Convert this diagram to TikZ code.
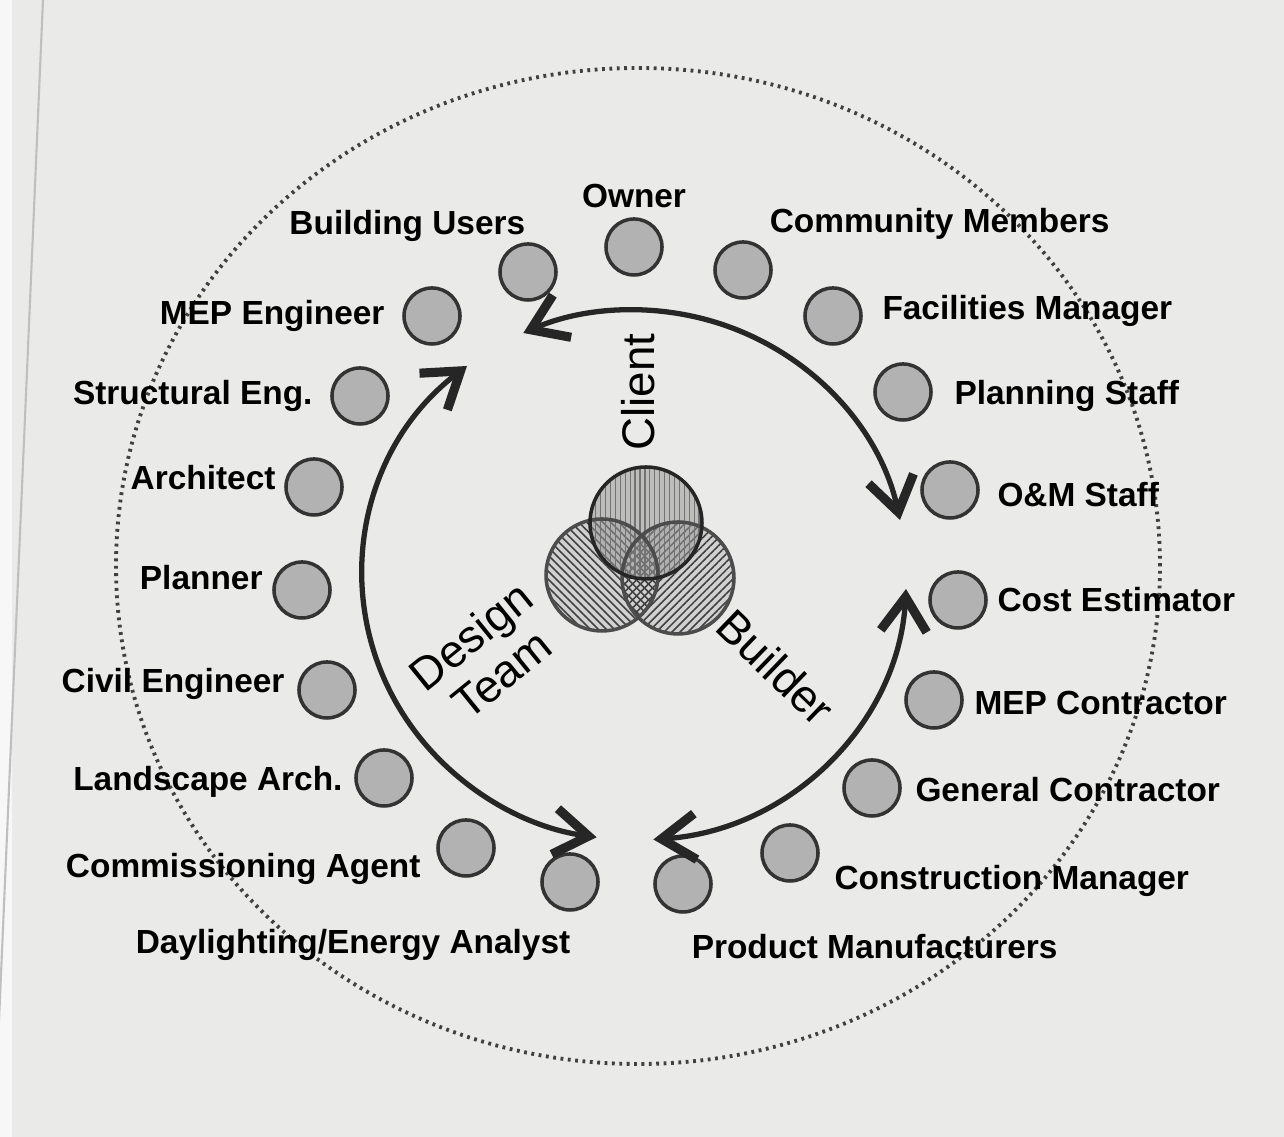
\documentclass[tikz,border=0pt]{standalone}
\usepackage{fontspec}
\setmainfont{Liberation Sans}
\usetikzlibrary{positioning,arrows.meta,patterns.meta}

\definecolor{paper}{RGB}{234,234,232}

\begin{document}
\begin{tikzpicture}[x=0.01cm, y=0.01cm,
    spot/.style={circle, draw=black!80, fill=black!30, line width=1pt, minimum size=5.6mm, inner sep=0pt},
    lbl/.style={font=\fontsize{9.5}{11}\selectfont\bfseries, inner sep=1pt},
    team/.style={font=\fontsize{13}{14}\selectfont, align=center, inner sep=1pt},
    cyclearrow/.style={<->, >={Straight Barb[length=3.4mm, width=4.6mm, line width=2.6pt]}, line width=1.5pt, black!85},
    venn/.style={draw=black!85, line width=1pt}]
    \tikzstyle{every node}=[font=\small]

    \useasboundingbox (0,0) rectangle (1284,1137);
    \fill[paper] (0,0) rectangle (1284,1137);
    \fill[black!3] (0,0) rectangle (12,1137);
    \draw[black!25, line width=0.6pt] (43,1137) -- (-6,0);

    % outer dotted ring
    \draw[black!75, line width=1.1pt, dash pattern=on 0.8pt off 1.3pt] (638,571) ellipse [x radius=522, y radius=498];

      \node[spot] (1) at (634,890) {};
      \node[spot] (2) at (528,865) {};
      \node[spot] (3) at (432,821) {};
      \node[spot] (4) at (360,741) {};
      \node[spot] (5) at (314,650) {};
      \node[spot] (6) at (302,547) {};
      \node[spot] (7) at (327,447) {};
      \node[spot] (8) at (384,359) {};
      \node[spot] (9) at (466,289) {};
      \node[spot] (10) at (570,255) {};
      \node[spot] (11) at (683,253) {};
      \node[spot] (12) at (790,284) {};
      \node[spot] (13) at (872,349) {};
      \node[spot] (14) at (934,437) {};
      \node[spot] (15) at (958,537) {};
      \node[spot] (16) at (950,647) {};
      \node[spot] (17) at (903,745) {};
      \node[spot] (18) at (833,821) {};
      \node[spot] (19) at (743,867) {};

      \node[lbl] (t1) [above=0.5mm of 1] {Owner};
      \node[lbl] (t2) [above left=0.55mm and -2.25mm of 2] {Building Users};
      \node[lbl] (t3) [left=1.35mm of 3] {MEP Engineer};
      \node[lbl] (t4) [left=1.35mm of 4] {Structural Eng.};
      \node[lbl] (t5) [left=0.45mm of 5, yshift=0.9mm] {Architect};
      \node[lbl] (t6) [left=0.55mm of 6, yshift=1.2mm] {Planner};
      \node[lbl] (t7) [left=0.85mm of 7, yshift=0.65mm] {Civil Engineer};
      \node[lbl] (t8) [left=0.75mm of 8, yshift=-0.35mm] {Landscape Arch.};
      \node[lbl] (t9) [left=1.15mm of 9, yshift=-2.1mm] {Commissioning Agent};
      \node[lbl] (t10) [below left=2.25mm and -2.55mm of 10] {Daylighting/Energy Analyst};
      \node[lbl] (t11) [below right=2.55mm and -1.65mm of 11] {Product Manufacturers};
      \node[lbl] (t12) [right=1.05mm of 12, yshift=-2.8mm] {Construction Manager};
      \node[lbl] (t13) [right=0.95mm of 13, yshift=-0.2mm] {General Contractor};
      \node[lbl] (t14) [right=0.65mm of 14, yshift=-0.3mm] {MEP Contractor};
      \node[lbl] (t15) [right=0.55mm of 15] {Cost Estimator};
      \node[lbl] (t16) [right=1.35mm of 16, yshift=-0.5mm] {O\&M Staff};
      \node[lbl] (t17) [right=1.75mm of 17, yshift=-0.4mm] {Planning Staff};
      \node[lbl] (t18) [right=1.55mm of 18, yshift=0.5mm] {Facilities Manager};
      \node[lbl] (t19) [above right=0.55mm and 0.15mm of 19] {Community Members};

    % three overlapping circles
    \coordinate (tv) at (646,614);
    \coordinate (lv) at (602,562);
    \coordinate (rv) at (678,559);
    \fill[black!18] (lv) circle[radius=56] (rv) circle[radius=56];
    \fill[pattern={Lines[angle=-45, distance=1.6pt, line width=0.45pt]}, pattern color=black!75] (lv) circle[radius=56];
    \fill[pattern={Lines[angle=45, distance=1.6pt, line width=0.45pt]}, pattern color=black!75] (rv) circle[radius=56];
    \fill[black!40, opacity=0.55] (tv) circle[radius=56];
    \fill[pattern={Lines[angle=90, distance=1.4pt, line width=0.35pt]}, pattern color=black!55] (tv) circle[radius=56];
    \draw[venn, draw=black!70] (lv) circle[radius=56];
    \draw[venn, draw=black!70] (rv) circle[radius=56];
    \draw[venn] (tv) circle[radius=56];

    \node[team, rotate=90] (client) at (638,745) {Client};
    \node[team, rotate=39] (design) at (486,482) {Design\\Team};
    \node[team, rotate=-44] (builder) at (776,470) {Builder};

    % cycle arrows
    \coordinate (a1) at (900,617);
    \coordinate (a2) at (467,771);
    \coordinate (a3) at (906,548);
    \draw[cyclearrow] (a1) arc[start angle=12, end angle=114, x radius=272, y radius=265];
    \draw[cyclearrow] (a2) arc[start angle=128, end angle=262, x radius=272, y radius=265];
    \draw[cyclearrow] (a3) arc[start angle=-3, end angle=-86, x radius=272, y radius=265];

\end{tikzpicture}
\end{document}
